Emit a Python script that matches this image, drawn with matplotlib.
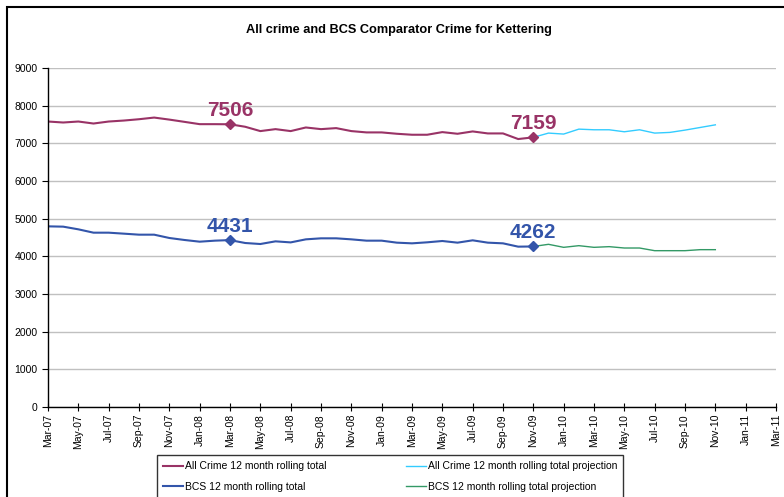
import matplotlib
matplotlib.use("Agg")
import matplotlib.pyplot as plt
from matplotlib.patches import Rectangle

plt.rcParams['font.family'] = ['Liberation Sans', 'DejaVu Sans']

# month labels Mar-07 .. Mar-11 (every month, ticks shown every second one)
months = ['Mar', 'Apr', 'May', 'Jun', 'Jul', 'Aug', 'Sep', 'Oct', 'Nov', 'Dec', 'Jan', 'Feb']
month_labels = []
for i in range(49):
    m = months[i % 12]
    yr = 7 + (i + 2) // 12
    month_labels.append(f"{m}-{yr:02d}")

# All Crime 12 month rolling total, Mar-07 .. Nov-09
all_crime = [7579, 7553, 7579, 7526, 7579, 7605, 7640, 7684, 7630, 7570, 7509, 7509,
             7506, 7440, 7325, 7377, 7325, 7421, 7377, 7404, 7325, 7290, 7290, 7254,
             7228, 7228, 7298, 7254, 7316, 7263, 7263, 7114, 7159]
# projection, Nov-09 .. Nov-10
all_crime_proj = [7159, 7272, 7246, 7377, 7360, 7360, 7307, 7360, 7272, 7290, 7351, 7421, 7491]

# BCS comparator crime 12 month rolling total, Mar-07 .. Nov-09
bcs = [4796, 4788, 4717, 4628, 4628, 4602, 4575, 4575, 4487, 4434, 4389, 4416,
       4431, 4354, 4327, 4398, 4370, 4451, 4478, 4478, 4451, 4416, 4416, 4363,
       4345, 4372, 4407, 4363, 4425, 4363, 4345, 4257, 4262]
bcs_proj = [4262, 4319, 4239, 4283, 4239, 4257, 4221, 4221, 4150, 4150, 4150, 4177, 4177]

# highlighted points (Mar-08 and Nov-09)
highlight_idx = [12, 32]

c_all = '#993366'
c_all_proj = '#33ccff'
c_bcs = '#3355aa'
c_bcs_proj = '#339966'

fig = plt.figure(figsize=(7.84, 4.97), dpi=100)
ax = fig.add_axes([48 / 784, 1 - 407 / 497, 728 / 784, 339 / 497])

x_hist = list(range(len(all_crime)))
x_proj = list(range(len(all_crime) - 1, len(all_crime) - 1 + len(all_crime_proj)))

l_all, = ax.plot(x_hist, all_crime, color=c_all, lw=1.5, label='All Crime 12 month rolling total')
l_all_p, = ax.plot(x_proj, all_crime_proj, color=c_all_proj, lw=1.0,
                   label='All Crime 12 month rolling total projection')
l_bcs, = ax.plot(x_hist, bcs, color=c_bcs, lw=1.5, label='BCS 12 month rolling total')
l_bcs_p, = ax.plot(x_proj, bcs_proj, color=c_bcs_proj, lw=1.0,
                   label='BCS 12 month rolling total projection')

# diamonds and value labels
for i in highlight_idx:
    ax.plot(i, all_crime[i], marker='D', color=c_all, ms=5)
    ax.annotate(str(all_crime[i]), (i, all_crime[i]), xytext=(0, 3), textcoords='offset points',
                ha='center', va='bottom', fontsize=15, fontweight='bold', color=c_all)
    ax.plot(i, bcs[i], marker='D', color=c_bcs, ms=5)
    ax.annotate(str(bcs[i]), (i, bcs[i]), xytext=(0, 3), textcoords='offset points',
                ha='center', va='bottom', fontsize=15, fontweight='bold', color=c_bcs)

ax.set_xlim(0, 48)
ax.set_ylim(0, 9000)
ax.set_yticks(range(0, 9001, 1000))
ax.set_xticks(range(0, 49, 2))
ax.set_xticklabels(month_labels[::2], rotation=90, fontsize=7.5)
ax.tick_params(axis='y', labelsize=7.5, direction='out', length=4, width=0.8)
ax.tick_params(axis='x', direction='inout', length=6, width=0.8, pad=2)
ax.grid(axis='y', color='#c0c0c0', lw=1)
ax.set_axisbelow(True)
for s in ['top', 'right']:
    ax.spines[s].set_visible(False)
for s in ['left', 'bottom']:
    ax.spines[s].set_linewidth(1)

fig.text(399 / 784, 1 - 30 / 497, 'All crime and BCS Comparator Crime for Kettering',
         ha='center', va='center', fontsize=9.2, fontweight='bold')

# legend rows: All Crime pair on top, BCS pair below
leg = fig.legend([l_all, l_bcs, l_all_p, l_bcs_p],
                 [l_all.get_label(), l_bcs.get_label(), l_all_p.get_label(), l_bcs_p.get_label()],
                 loc='upper left', bbox_to_anchor=(157 / 784, 1 - 455 / 497), ncol=2,
                 fontsize=7.5, frameon=True, fancybox=False, edgecolor='black',
                 handlelength=1.9, handletextpad=0.2, columnspacing=7.6,
                 labelspacing=1.0, borderpad=0.6, borderaxespad=0)
leg.get_frame().set_linewidth(1)

# outer chart border
fig.patches.append(Rectangle((7 / 784, -0.1), 1.2, 1 - 7 / 497 + 0.1, transform=fig.transFigure,
                             fill=False, edgecolor='black', lw=1.5, clip_on=False))

fig.savefig('out.png', dpi=100)
